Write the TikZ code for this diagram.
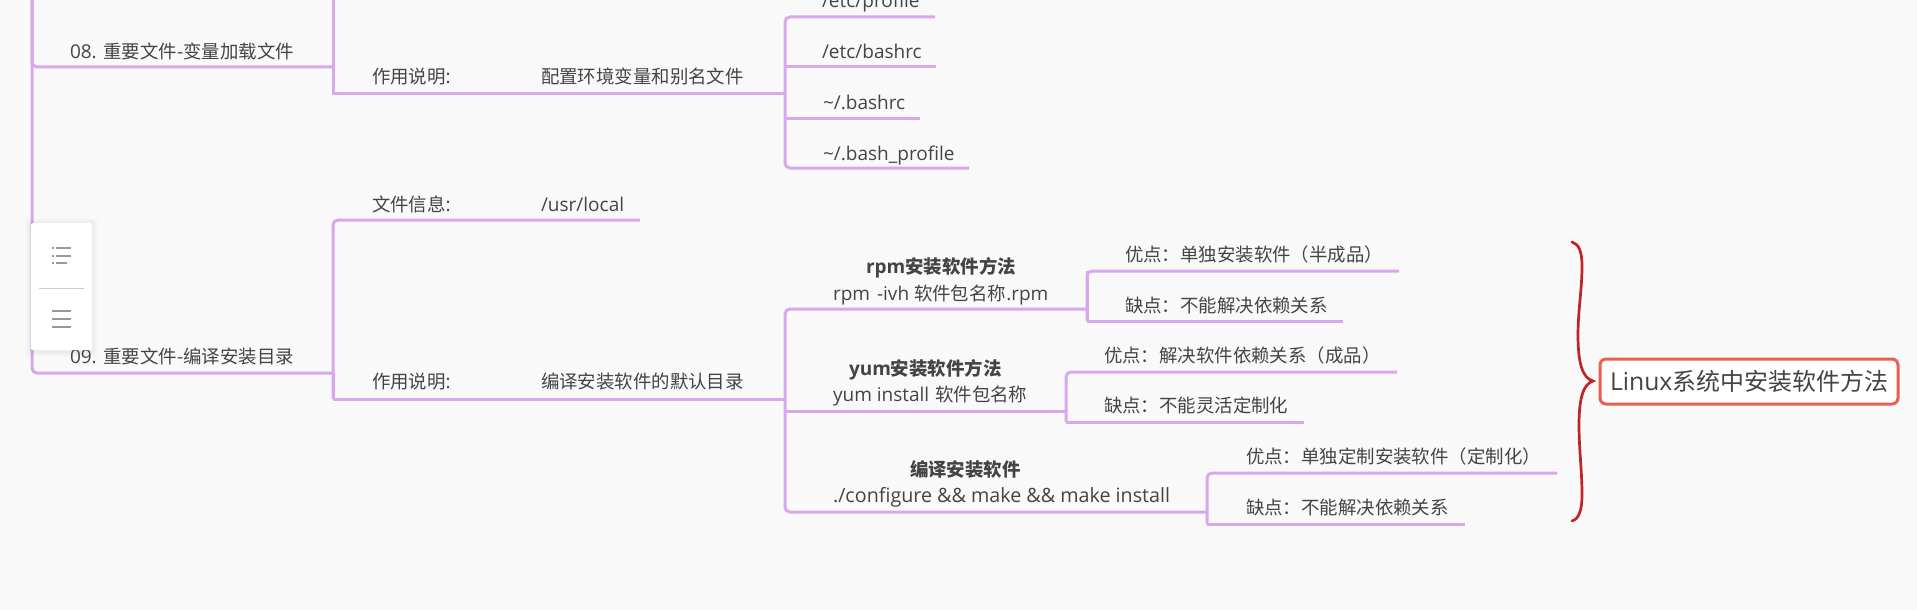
\documentclass[tikz,border=0pt]{standalone}
\usepackage{fontspec}
\setmainfont{Open Sans}
\newfontfamily\cjk[Scale=0.97]{Noto Sans CJK SC}
\newcommand\cn[1]{{\cjk #1}}
\definecolor{bgc}{HTML}{F9F9F9}
\definecolor{branchc}{HTML}{D8A8EC}
\definecolor{textc}{HTML}{444444}
\definecolor{bracec}{HTML}{C02424}
\definecolor{boxc}{HTML}{E8604F}
\definecolor{iconc}{HTML}{999999}
\tikzset{
  branch/.style={draw=branchc,line width=3pt,line cap=butt,line join=miter},
  fork/.style={branch,rounded corners=5pt},
  topic/.style={anchor=base west,inner sep=0pt,outer sep=0pt,text=textc,font=\fontsize{19}{22}\selectfont},
  titlet/.style={topic,font=\fontsize{19}{22}\selectfont\bfseries},
  callout/.style={draw=boxc,line width=3pt,fill=white,rounded corners=6pt,minimum width=298pt,minimum height=45pt,inner sep=0pt,text=textc,font=\fontsize{24.7}{28}\selectfont},
  iconline/.style={draw=iconc,line width=1.2pt},
}
\begin{document}
\begin{tikzpicture}[x=1pt,y=-1pt]
\path[use as bounding box,clip] (0,0) rectangle (1917,610);
\fill[bgc] (0,0) rectangle (1917,610);
% text
\node[topic] (t08) at (70,59) {08. \cn{重要文件-变量加载文件}};
\node[topic] (t09) at (70,363) {09. \cn{重要文件-编译安装目录}};
\node[topic] (a1) at (372,84) {\cn{作用说明}:};
\node[topic] (a2) at (372,211) {\cn{文件信息}:};
\node[topic] (a3) at (372,388) {\cn{作用说明}:};
\node[topic] (b1) at (541,84) {\cn{配置环境变量和别名文件}};
\node[topic] (b2) at (541,211) {/usr/local};
\node[topic] (b3) at (541,388) {\cn{编译安装软件的默认目录}};
\node[topic] (c1) at (822,8) {/etc/profile};
\node[topic] (c2) at (822,59) {/etc/bashrc};
\node[topic] (c3) at (823,109) {\textasciitilde/.bashrc};
\node[topic] (c4) at (823,160) {\textasciitilde/.bash\_profile};
\node[titlet] (d1t) at (866,273) {rpm\cn{安装软件方法}};
\node[topic] (d1) at (833,300) {rpm\hspace{7pt}-ivh \cn{软件包名称}.rpm};
\node[titlet] (d2t) at (849,375) {yum\cn{安装软件方法}};
\node[topic] (d2) at (833,401) {yum install\hspace{1pt} \cn{软件包名称}};
\node[titlet] (d3t) at (910,476) {\cn{编译安装软件}};
\node[topic,font=\fontsize{19.7}{22}\selectfont] (d3) at (833,502) {./configure \&\& make \&\& make install};
\node[topic] (e1) at (1125,261) {\cn{优点：单独安装软件（半成品）}};
\node[topic] (e2) at (1125,312) {\cn{缺点：不能解决依赖关系}};
\node[topic] (e3) at (1104,362) {\cn{优点：解决软件依赖关系（成品）}};
\node[topic] (e4) at (1104,412) {\cn{缺点：不能灵活定制化}};
\node[topic] (e5) at (1246,463) {\cn{优点：单独定制安装软件（定制化）}};
\node[topic] (e6) at (1246,514) {\cn{缺点：不能解决依赖关系}};
% junction and line-end coordinates
\coordinate (m0) at (32,-5);
\coordinate (m8) at (333,67);
\coordinate (m9) at (333,373);
\coordinate (f1top) at (333,-5);
\coordinate (f1) at (333,93);
\coordinate (g1) at (785,93);
\coordinate (f2top) at (333,220);
\coordinate (f2) at (333,399);
\coordinate (l2) at (640,220);
\coordinate (g2) at (785,399);
\coordinate (lc1) at (935,17);
\coordinate (lc2) at (936,67);
\coordinate (lc3) at (920,118);
\coordinate (lc4) at (969,168);
\coordinate (ld1) at (1087,309);
\coordinate (ld2) at (1066,411);
\coordinate (ld3) at (1207,512);
\coordinate (le1) at (1399,271);
\coordinate (le2) at (1343,321);
\coordinate (le3) at (1397,372);
\coordinate (le4) at (1304,422);
\coordinate (le5) at (1557,473);
\coordinate (le6) at (1465,524);
% connectors
\draw[fork] (m0) |- (m9);
\draw[fork] (m0) |- (m8);
\draw[branch] (f1top) -- (f1) -- (g1);
\draw[branch] (m8 |- m9) -- (f2);
\draw[fork] (f2) -- (f2top) -- (l2);
\draw[branch] (f2) -- (g2);
\draw[fork] (lc4) -- (g1 |- lc4) -- (g1 |- lc1) -- (lc1);
\draw[branch] (g1 |- lc2) -- (lc2);
\draw[branch] (g1 |- lc3) -- (lc3);
\draw[fork] (ld3) -- (g2 |- ld3) -- (g2 |- ld1) -- (ld1);
\draw[branch] (g2 |- ld2) -- (ld2);
\draw[branch] (ld1 |- le2) -- (le2);
\draw[branch] (ld1 |- le2) -- (ld1 |- le1);
\draw[fork] (ld1 |- le2) -- (ld1 |- le1) -- (le1);
\draw[branch] (ld2 |- le4) -- (le4);
\draw[fork] (ld2 |- le4) -- (ld2 |- le3) -- (le3);
\draw[branch] (ld3 |- le6) -- (le6);
\draw[fork] (ld3 |- le6) -- (ld3 |- le5) -- (le5);
% brace and summary
\node[callout] (sum) at (1749,381.5) {Linux\cn{系统中安装软件方法}};
\coordinate (btop) at (1572,242);
\coordinate (bbot) at (1572,521);
\coordinate (btip) at (1593,381);
\draw[bracec,line width=2.7pt,line cap=round]
  (btop) .. controls (1579,244) and (1582,252) .. (1582,266)
  .. controls (1582,290) and (1578,310) .. (1578,335)
  .. controls (1578,362) and (1582,378) .. (btip)
  .. controls (1584,384) and (1579,396) .. (1579,425)
  .. controls (1579,450) and (1582,470) .. (1582,495)
  .. controls (1582,510) and (1579,519) .. (bbot);
% toolbar
\foreach \s/\o in {6/.012,4/.018,2/.025}
  \fill[black,opacity=\o,rounded corners=2pt] (31-\s,223-\s+1) rectangle (92+\s,350+\s+1);
\node[fill=white,rounded corners=1.5pt,minimum width=61pt,minimum height=127pt,inner sep=0pt,anchor=north west] (bar) at (31,223) {};
\draw[draw=black!20,line width=.8pt] (39,288) -- (84,288);
\draw[iconline] (56,248) -- (71,248) (56,256) -- (71,256) (56,263) -- (67,263);
\draw[iconline] (52,248) -- (54,248) (52,256) -- (54,256) (52,263) -- (54,263);
\draw[iconline] (52,311) -- (71,311) (52,319) -- (71,319) (52,327) -- (71,327);
\end{tikzpicture}
\end{document}
